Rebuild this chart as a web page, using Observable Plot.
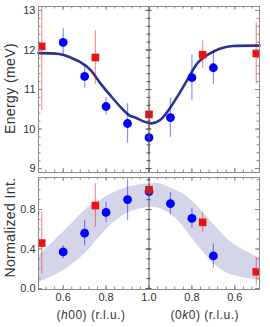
<!DOCTYPE html>
<html>
<head>
<meta charset="utf-8">
<script src="https://cdn.jsdelivr.net/npm/d3@7"></script>
<script src="https://cdn.jsdelivr.net/npm/@observablehq/plot@0.6"></script>
<style>
  html, body { margin: 0; padding: 0; background: #fff; }
  #chart svg { display: block; }
</style>
</head>
<body>
<div id="chart"></div>
<script>
// Position u: u = h - 1 on the (h00) branch (left), u = 1 - k on the (0k0) branch (right)
// ---- Energy panel (meV) ----
const blueH = [0.6, 0.7, 0.8, 0.9, 1.0];
const blueHEnergy = [12.19, 11.33, 10.57, 10.14, 9.78];
const blueHEnergyErr = [0.35, 0.30, 0.22, 0.50, 0.43];
const blueK = [0.9, 0.8, 0.7];
const blueKEnergy = [10.29, 11.30, 11.55];
const blueKEnergyErr = [0.50, 0.57, 0.42];

const redH = [0.5, 0.75, 1.0];
const redHEnergy = [12.09, 11.81, 10.37];
const redHEnergyErr = [1.62, 0.68, 0.35];
const redK = [0.75, 0.5];
const redKEnergy = [11.88, 11.91];
const redKEnergyErr = [0.35, 0.78];

// dispersion curve (u, energy)
const curveU = [-0.515, -0.42, -0.37, -0.32, -0.27, -0.23, -0.18, -0.13, -0.09, -0.06, 0, 0.05, 0.09, 0.14, 0.19, 0.23, 0.28, 0.33, 0.39, 0.515];
const curveE = [11.92, 11.90, 11.82, 11.69, 11.48, 11.18, 10.85, 10.54, 10.34, 10.28, 10.15, 10.22, 10.47, 10.89, 11.35, 11.69, 11.90, 12.03, 12.10, 12.11];

// ---- Normalized intensity panel ----
const blueHInt = [0.37, 0.56, 0.77, 0.90, 0.98];
const blueHIntErr = [0.065, 0.13, 0.10, 0.21, 0.05];
const blueKInt = [0.86, 0.71, 0.33];
const blueKIntErr = [0.11, 0.10, 0.12];

const redHInt = [0.46, 0.84, 1.0];
const redHIntErr = [0.31, 0.22, 0.05];
const redKInt = [0.67, 0.17];
const redKIntErr = [0.10, 0.14];

// shaded band (u, lower, upper)
const bandU = [-0.515, -0.40, -0.30, -0.24, -0.12, 0, 0.05, 0.12, 0.19, 0.26, 0.33, 0.40, 0.515];
const bandLo = [0.06, 0.18, 0.35, 0.50, 0.74, 0.82, 0.81, 0.72, 0.54, 0.35, 0.20, 0.13, 0.08];
const bandHi = [0.33, 0.57, 0.79, 0.88, 1.01, 1.06, 1.06, 1.00, 0.91, 0.75, 0.58, 0.44, 0.31];

// ---- tick labels ----
const xTickPos = [-0.4, -0.2, 0, 0.2, 0.4];
const xTickLabels = ["0.6", "0.8", "1.0", "0.8", "0.6"];
const energyTicks = [9, 10, 11, 12, 13];
const intTicks = [0.0, 0.4, 0.8];
const intTickLabels = ["0.0", "0.4", "0.8"];
const titles = {energy: "Energy (meV)", intensity: "Normalized Int."};
const xTitles = [
  {u: -0.27, pre: "(", it: "h", post: "00) (r.l.u.)"},
  {u: 0.26, pre: "(0", it: "k", post: "0) (r.l.u.)"}
];

function rows(qs, vals, errs, branch) {
  return qs.map((q, i) => ({u: branch === "h" ? q - 1 : 1 - q, v: vals[i], e: errs[i]}));
}
const blueE = [...rows(blueH, blueHEnergy, blueHEnergyErr, "h"), ...rows(blueK, blueKEnergy, blueKEnergyErr, "k")];
const redE = [...rows(redH, redHEnergy, redHEnergyErr, "h"), ...rows(redK, redKEnergy, redKEnergyErr, "k")];
const blueI = [...rows(blueH, blueHInt, blueHIntErr, "h"), ...rows(blueK, blueKInt, blueKIntErr, "k")];
const redI = [...rows(redH, redHInt, redHIntErr, "h"), ...rows(redK, redKInt, redKIntErr, "k")];
const curve = curveU.map((u, i) => ({u, v: curveE[i]}));
const band = bandU.map((u, i) => ({u, lo: bandLo[i], hi: bandHi[i]}));

const W = 270, ML = 38, MR = 11;
const PW = W - ML - MR;
const XD = [-0.515, 0.515];
const CX = PW / 2; // center line offset inside frame
const FONT = "'Liberation Sans', Arial, Helvetica, sans-serif";
const FRAME = "#8a8a8a";
const BLUE = "#0000ff", RED = "#ee1111";
const NAVY = "#2e3190", BAND = "#d5d5ea";

const xMinor = d3.range(-12, 13).map(i => +(i * 0.04).toFixed(2));
const xMajor = xTickPos;

function tickMarks(PH, yMinor, yMajor) {
  const s = {stroke: FRAME, strokeWidth: 1};
  return [
    Plot.tickX(xMinor, {...s, insetBottom: PH - 2.5}),
    Plot.tickX(xMinor, {...s, insetTop: PH - 2.5}),
    Plot.tickX(xMajor, {...s, insetBottom: PH - 4}),
    Plot.tickX(xMajor, {...s, insetTop: PH - 4}),
    Plot.tickY(yMinor, {...s, insetRight: PW - 2.5}),
    Plot.tickY(yMinor, {...s, insetLeft: PW - 2.5}),
    Plot.tickY(yMajor, {...s, insetRight: PW - 4}),
    Plot.tickY(yMajor, {...s, insetLeft: PW - 4}),
    Plot.tickY(yMinor, {stroke: "#555", strokeWidth: 1, insetLeft: CX - 2, insetRight: PW - CX - 2}),
    Plot.tickY(yMajor, {stroke: "#555", strokeWidth: 1, insetLeft: CX - 3, insetRight: PW - CX - 3}),
    Plot.ruleX([0], {stroke: "#555", strokeWidth: 1}),
    Plot.frame({stroke: FRAME, strokeWidth: 1})
  ];
}

// ---------- top panel ----------
const topH = 172, topMT = 6, topMB = 0;
const eMinor = d3.range(0, 21).map(i => +(9 + i * 0.2).toFixed(1));
const topChart = Plot.plot({
  width: W, height: topH,
  marginLeft: ML, marginRight: MR, marginTop: topMT, marginBottom: topMB,
  style: {fontFamily: FONT, background: "transparent", overflow: "visible"},
  x: {domain: XD, axis: null},
  y: {domain: [8.9, 13.1], axis: null},
  marks: [
    Plot.line(curve, {x: "u", y: "v", stroke: NAVY, strokeWidth: 2.6, curve: "natural"}),
    Plot.ruleX(blueE, {x: "u", y1: d => d.v - d.e, y2: d => d.v + d.e, stroke: BLUE, strokeOpacity: 0.45, strokeWidth: 1.2, clip: true}),
    Plot.dot(blueE, {x: "u", y: "v", r: 4.4, fill: BLUE, stroke: "none"}),
    Plot.ruleX(redE, {x: "u", y1: d => d.v - d.e, y2: d => d.v + d.e, stroke: RED, strokeOpacity: 0.45, strokeWidth: 1.2, clip: true}),
    Plot.dot(redE, {x: "u", y: "v", r: 4.3, symbol: "square", fill: RED, stroke: "none"}),
    ...tickMarks(topH - topMT - topMB, eMinor, energyTicks),
    Plot.axisY(energyTicks, {anchor: "left", tickSize: 0, tickPadding: 3, fontSize: 11, fill: "#333", label: null}),
    Plot.text([titles.energy], {frameAnchor: "left", textAnchor: "middle", lineAnchor: "middle", rotate: -90, dx: -28, dy: -1, fontSize: 14, fill: "#333", text: d => d})
  ]
});

// ---------- bottom panel ----------
const botH = 155, botMT = 5, botMB = 38;
const iMinor = d3.range(0, 12).map(i => +(i * 0.1).toFixed(1));
const botChart = Plot.plot({
  width: W, height: botH,
  marginLeft: ML, marginRight: MR, marginTop: botMT, marginBottom: botMB,
  style: {fontFamily: FONT, background: "transparent", overflow: "visible"},
  x: {domain: XD, axis: null},
  y: {domain: [-0.01, 1.124], axis: null},
  marks: [
    Plot.areaY(band, {x: "u", y1: "lo", y2: "hi", fill: BAND, curve: "natural"}),
    Plot.ruleX(blueI, {x: "u", y1: d => d.v - d.e, y2: d => d.v + d.e, stroke: BLUE, strokeOpacity: 0.45, strokeWidth: 1.2}),
    Plot.dot(blueI, {x: "u", y: "v", r: 4.4, fill: BLUE, stroke: "none"}),
    Plot.ruleX(redI, {x: "u", y1: d => d.v - d.e, y2: d => d.v + d.e, stroke: RED, strokeOpacity: 0.45, strokeWidth: 1.2}),
    Plot.dot(redI, {x: "u", y: "v", r: 4.3, symbol: "square", fill: RED, stroke: "none"}),
    ...tickMarks(botH - botMT - botMB, iMinor, intTicks),
    Plot.axisY(intTicks, {anchor: "left", tickSize: 0, tickPadding: 3, fontSize: 11, fill: "#333", label: null, tickFormat: (d, i) => intTickLabels[i]}),
    Plot.axisX(xTickPos, {anchor: "bottom", tickSize: 0, tickPadding: 4, fontSize: 11, fill: "#333", label: null, tickFormat: (d, i) => xTickLabels[i]}),
    Plot.text([titles.intensity], {frameAnchor: "left", textAnchor: "middle", lineAnchor: "middle", rotate: -90, dx: -28, dy: -6, fontSize: 14, fill: "#333", text: d => d}),
    Plot.text(xTitles, {x: "u", frameAnchor: "bottom", textAnchor: "middle", lineAnchor: "middle", dy: 26, fontSize: 12, fill: "#333", text: d => d.pre + d.it + d.post})
  ]
});

// italic h / k in the x titles
d3.select(botChart).selectAll("text").each(function () {
  const t = this.textContent;
  const m = xTitles.find(d => d.pre + d.it + d.post === t);
  if (m) {
    const s = d3.select(this);
    s.text(null).style("letter-spacing", "0.5px");
    s.append("tspan").text(m.pre);
    s.append("tspan").attr("font-style", "italic").text(m.it);
    s.append("tspan").text(m.post);
  }
});
d3.select(topChart).selectAll("text").filter(function () { return this.textContent === titles.energy; }).style("letter-spacing", "0.4px");
d3.select(botChart).selectAll("text").filter(function () { return this.textContent === titles.intensity; }).style("letter-spacing", "0.4px");

document.getElementById("chart").append(topChart, botChart);
</script>
</body>
</html>
